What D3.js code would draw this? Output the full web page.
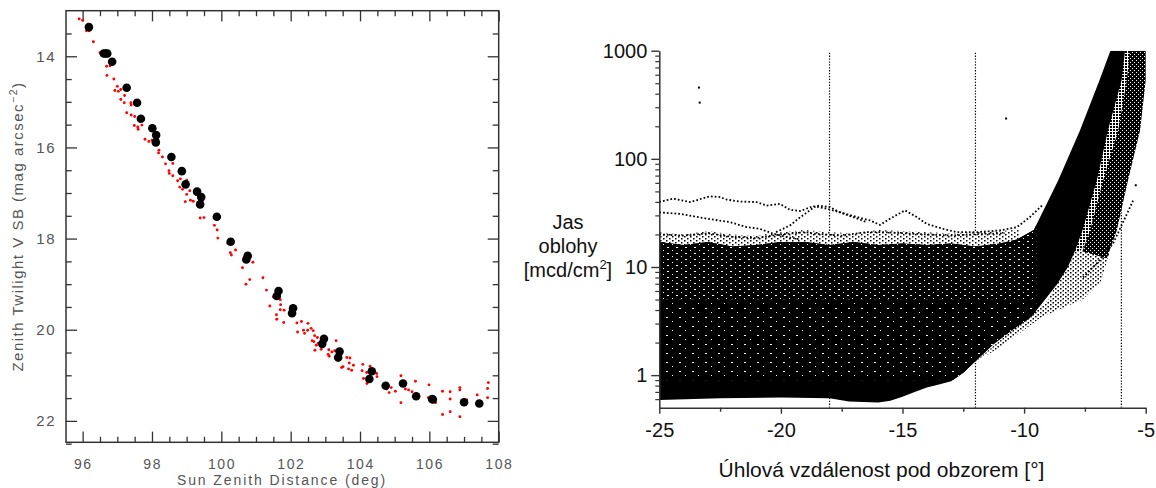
<!DOCTYPE html>
<html><head><meta charset="utf-8">
<script src="https://cdn.jsdelivr.net/npm/d3@7"></script>
<style>
html,body{margin:0;padding:0;background:#fff;}
svg{display:block;}
</style></head><body>
<svg id="c" width="1156" height="488"></svg>
<script>
// ================= LEFT PANEL DATA =================
const leftXMajor = [96, 98, 100, 102, 104, 106, 108];
const leftXMinor = [96.5, 97, 97.5, 98.5, 99, 99.5, 100.5, 101, 101.5, 102.5, 103, 103.5, 104.5, 105, 105.5, 106.5, 107, 107.5];
const leftYMajor = [14, 16, 18, 20, 22];
const leftYMinor = [13.5, 14.5, 15, 15.5, 16.5, 17, 17.5, 18.5, 19, 19.5, 20.5, 21, 21.5, 22.5];
// black points: [sun zenith distance (deg), V SB (mag/arcsec^2)]
const blackPoints = [
[96.18,13.36],[96.61,13.94],[96.66,13.94],[96.71,13.94],[96.85,14.12],[97.27,14.69],[97.57,15.02],[97.68,15.37],
[98.01,15.58],[98.12,15.73],[98.11,15.89],[98.56,16.21],[98.86,16.52],[98.97,16.81],[99.30,16.97],[99.42,17.09],
[99.39,17.25],[99.87,17.52],[100.27,18.07],[100.76,18.38],[100.72,18.46],[101.65,19.15],[101.60,19.26],[102.07,19.53],
[102.04,19.64],[102.96,20.20],[102.91,20.31],[103.41,20.48],[103.37,20.61],[104.34,20.91],[104.27,21.08],[104.74,21.23],
[105.24,21.18],[105.62,21.46],[106.08,21.52],[106.10,21.53],[107.00,21.59],[107.44,21.62]];
// red points
const redPoints = [
[95.90,13.18],[96.00,13.21],[96.11,13.44],[96.19,13.44],[96.31,13.68],[96.50,13.92],[96.69,14.22],[96.79,14.21],
[96.70,14.42],[96.90,14.50],[97.00,14.66],[96.93,14.75],[97.03,14.77],[97.10,14.73],[97.21,14.86],[97.10,14.95],
[97.20,15.02],[97.39,15.02],[97.40,15.07],[97.27,15.24],[97.40,15.29],[97.50,15.32],[97.49,15.52],[97.59,15.55],
[97.71,15.51],[97.60,15.60],[97.80,15.82],[97.91,15.87],[98.00,15.84],[98.10,15.93],[98.20,16.06],[98.19,16.12],
[98.30,16.21],[98.39,16.36],[98.60,16.35],[98.49,16.51],[98.50,16.57],[98.60,16.62],[98.74,16.73],[98.82,16.69],
[98.80,16.87],[98.88,16.92],[99.00,16.72],[99.09,16.95],[99.00,17.03],[98.96,17.19],[99.11,17.16],[99.19,17.18],
[99.39,17.55],[99.50,17.54],[99.80,17.71],[99.88,17.81],[99.90,17.99],[100.19,18.10],[100.26,18.31],[100.41,18.25],
[100.29,18.36],[100.61,18.64],[100.91,18.52],[100.71,19.00],[100.82,18.90],[101.20,18.86],[101.30,19.13],[101.50,19.28],
[101.40,19.48],[101.59,19.67],[101.60,19.77],[101.70,19.34],[101.71,19.45],[101.70,19.56],[101.81,19.57],[101.80,19.84],
[102.03,19.64],[102.18,19.85],[102.31,19.82],[102.20,20.05],[102.37,20.01],[102.40,20.08],[102.50,19.86],[102.59,19.97],
[102.49,20.01],[102.65,20.02],[102.69,20.13],[102.67,20.26],[102.77,20.17],[102.62,20.24],[102.79,20.30],[102.88,20.43],
[102.70,20.45],[102.74,20.34],[103.10,20.44],[103.08,20.54],[103.11,20.58],[103.19,20.49],[103.31,20.24],[103.27,20.46],
[103.38,20.67],[103.51,20.81],[103.47,20.83],[103.62,20.61],[103.71,20.62],[103.69,20.73],[103.67,20.86],[103.76,20.89],
[103.81,20.78],[104.08,20.76],[104.06,20.90],[104.10,21.07],[104.19,20.94],[104.20,21.18],[104.29,20.80],[104.38,20.91],
[104.48,20.96],[104.49,21.03],[104.77,21.30],[104.84,21.38],[104.90,21.27],[105.02,21.35],[105.18,21.01],[105.18,21.60],
[105.27,21.14],[105.31,21.30],[105.40,21.32],[105.50,21.36],[105.60,21.13],[105.99,21.21],[105.97,21.49],[106.18,21.60],
[106.38,21.35],[106.38,21.86],[106.60,21.36],[106.60,21.80],[106.60,21.52],[106.88,21.27],[106.88,21.32],[106.88,21.91],
[107.08,21.54],[107.38,21.43],[107.70,21.16],[107.68,21.29],[107.68,21.49]];

// ================= RIGHT PANEL DATA =================
const rightXMajor = [-25, -20, -15, -10, -5];
const rightXMinor = [-22.5, -17.5, -12.5, -7.5];
const rightYMajor = [1, 10, 100, 1000];
const rightYMinor = [0.6,0.7,0.8,0.9, 2,3,4,5,6,7,8,9, 20,30,40,50,60,70,80,90, 200,300,400,500,600,700,800,900];
const markerAngles = [-18, -12, -6];
// outline of the dense cloud of measurements [angle, brightness]
const massOutline = [
[-25,0.59],[-22.5,0.61],[-20,0.62],[-18,0.61],[-17.2,0.57],[-16,0.56],[-15.5,0.58],[-15,0.63],[-14.5,0.7],[-14,0.77],
[-13.5,0.82],[-13,0.88],[-12.5,1.05],[-12.06,1.31],[-11.25,1.94],[-10.5,2.6],[-9.72,3.43],[-9.2,4.8],[-8.63,7.0],
[-8.2,10],[-7.9,14.2],[-7.6,21.8],[-7.01,63],[-6.55,184],[-5.99,533],[-5.85,1000],[-6.45,1000],[-6.9,533],[-7.7,184],
[-8.6,63],[-9.6,22],[-10.3,18],[-11,16.5],[-12,15.5],[-13,16.5],[-14,16],[-15,16.5],[-16,16],[-17,17],[-18,16],[-19,17],
[-20,17],[-21,16],[-22,15.5],[-23,17],[-24,16],[-25,17]];
// ragged fringe of sparse points on top of the cloud
const topFringe = [
[-25,21],[-24,20],[-23,21.5],[-22,20],[-21,19.5],[-20,21],[-19,22],[-18,21],[-17,20.5],[-16,22],[-15,21.5],[-14,21],
[-13,20.5],[-12,21],[-11,21.5],[-10.2,22],[-10.2,15],[-25,15]];
// speckled gap between the two rising bands
const gapOutline = [[-6.2,1000],[-5.5,1000],[-5.7,533],[-6.0,184],[-6.6,63],[-7.2,21.8],[-7.7,14],[-8.2,14],[-7.5,40],[-6.6,300]];
// sparse halo along the lower-right edge
const haloOutline = [
[-7.2,21.8],[-6.45,14.2],[-6.88,7],[-7.6,5],[-9.3,3.43],[-11,1.8],[-12.06,1.31],[-9,5],[-8,14]];
// second (outer) band of the rising part
const outerBand = [
[-5.65,1000],[-5.78,533],[-6.13,184],[-6.75,63],[-7.29,21.8],[-7.6,14],[-6.6,12],[-6.19,21.8],[-5.73,63],[-5.23,184],
[-5,533],[-5,1000]];
// individual nights above the cloud
const nightA = [[-25,40],[-24.42,42.9],[-23.74,39.8],[-22.92,45],[-22.5,44.3],[-22.23,42],[-21.68,40.3],[-20.99,39.8],
[-20.58,37],[-20.04,38.4],[-19.63,33.8],[-19.21,32.9],[-18.67,36.5],[-18.12,34.6],[-17.57,32.1],[-16.88,29],[-16.34,27],
[-15.93,24.5],[-15.51,28],[-14.9,33.4],[-14.42,29],[-14.0,25],[-13.32,22.5],[-12.77,21],[-11.95,21],[-10.99,21.8],
[-10.3,23.3],[-9.76,29],[-9.21,38]];
const nightB = [[-25,32],[-24.15,31],[-23.05,28],[-22.1,26],[-21.41,23.4],[-20.86,22.5],[-20.31,20.3],[-19.76,18.9],[-19.2,18]];
const nightC = [[-25,20],[-24,19.5],[-23,20.5],[-22,19],[-21,18.5],[-20,20],[-19,21],[-18.7,20.4],[-17.5,19.5],[-16.5,21],
[-15.8,21],[-14.4,20.2],[-13,19.5],[-11.7,20.2],[-10.8,20.5]];
const nightD = [[-20.2,21],[-19.63,24.2],[-19.21,28.8],[-18.53,37],[-17.98,35.8],[-17.57,32],[-16.47,26]];
const tailE = [[-7.58,8.0],[-7.01,10.8],[-6.34,16.5],[-5.52,41]];
const outliers = [[-23.37,456],[-23.34,331],[-10.74,236],[-5.41,57]];
// speckle texture bands inside the cloud [low, high, pattern]
const speckleBands = [[0.9,5,'sp1'],[5,30,'sp2']];

// ================= DRAW =================
const svg = d3.select('#c');
svg.append('rect').attr('width',1156).attr('height',488).attr('fill','#fff');
const defs = svg.append('defs');

// ---------- left panel ----------
const LX0=66, LX1=498.7, LY0=10.7, LY1=442.3;
const xL = d3.scaleLinear().domain([95.52,108]).range([LX0,LX1]);
const yL = d3.scaleLinear().domain([13,22.47]).range([LY0,LY1]);
const gl = svg.append('g');
const lfont = "'Liberation Sans', Arial, sans-serif";
const lcol = '#555';
function onlyTicks(g, col, w){ g.select('.domain').remove(); g.selectAll('text').remove();
  g.selectAll('line').attr('stroke',col).attr('stroke-width',w); }
gl.append('g').attr('transform',`translate(0,${LY1})`).call(d3.axisBottom(xL).tickValues(leftXMajor).tickSize(-10.7)).call(onlyTicks,'#333',1.3);
gl.append('g').attr('transform',`translate(0,${LY1})`).call(d3.axisBottom(xL).tickValues(leftXMinor).tickSize(-5.5)).call(onlyTicks,'#333',1.3);
gl.append('g').attr('transform',`translate(0,${LY0})`).call(d3.axisTop(xL).tickValues(leftXMajor).tickSize(-10.7)).call(onlyTicks,'#333',1.3);
gl.append('g').attr('transform',`translate(0,${LY0})`).call(d3.axisTop(xL).tickValues(leftXMinor).tickSize(-5.5)).call(onlyTicks,'#333',1.3);
gl.append('g').attr('transform',`translate(${LX0},0)`).call(d3.axisLeft(yL).tickValues(leftYMajor).tickSize(-11)).call(onlyTicks,'#333',1.3);
gl.append('g').attr('transform',`translate(${LX0},0)`).call(d3.axisLeft(yL).tickValues(leftYMinor).tickSize(-5.7)).call(onlyTicks,'#333',1.3);
gl.append('g').attr('transform',`translate(${LX1},0)`).call(d3.axisRight(yL).tickValues(leftYMajor).tickSize(-11)).call(onlyTicks,'#333',1.3);
gl.append('g').attr('transform',`translate(${LX1},0)`).call(d3.axisRight(yL).tickValues(leftYMinor).tickSize(-6)).call(onlyTicks,'#333',1.3);
gl.append('rect').attr('x',LX0).attr('y',LY0).attr('width',LX1-LX0).attr('height',LY1-LY0)
  .attr('fill','none').attr('stroke','#333').attr('stroke-width',1.5);
// points
gl.append('g').selectAll('circle').data(redPoints).join('circle')
  .attr('cx',d=>xL(d[0])).attr('cy',d=>yL(d[1])).attr('r',1.45).attr('fill','#ff0000');
gl.append('g').selectAll('circle').data(blackPoints).join('circle')
  .attr('cx',d=>xL(d[0])).attr('cy',d=>yL(d[1])).attr('r',4.3).attr('fill','#000');
// labels
gl.append('g').selectAll('text').data(leftXMajor).join('text')
  .attr('x',d=>xL(d)+0.7).attr('y',469).attr('text-anchor','middle')
  .attr('font-family',lfont).attr('font-size',14).attr('letter-spacing',1.6).attr('fill',lcol).text(d=>d);
gl.append('g').selectAll('text').data(leftYMajor).join('text')
  .attr('x',LX0-10).attr('y',d=>yL(d)).attr('dy','0.36em').attr('text-anchor','end')
  .attr('font-family',lfont).attr('font-size',15).attr('letter-spacing',1.5).attr('fill',lcol).text(d=>d);
gl.append('text').attr('x',282).attr('y',484.6).attr('text-anchor','middle')
  .attr('font-family',lfont).attr('font-size',14).attr('letter-spacing',1.9).attr('fill',lcol)
  .text('Sun Zenith Distance (deg)');
const yl = gl.append('text').attr('transform','translate(23,226.5) rotate(-90)').attr('text-anchor','middle')
  .attr('font-family',lfont).attr('font-size',15).attr('letter-spacing',1.5).attr('fill',lcol);
yl.append('tspan').text('Zenith Twilight V SB (mag arcsec');
yl.append('tspan').attr('font-size',10.5).attr('dy',-6).text('\u22122');
yl.append('tspan').attr('dy',6).text(')');

// ---------- right panel ----------
const RX0=659.3, RX1=1145.7, RY0=50.7, RY1=407.7;
const xR = d3.scaleLinear().domain([-25,-5]).range([RX0,RX1]);
const yR = d3.scaleLog().domain([0.5,1000]).range([RY1,RY0]);
const rfont = "'Liberation Sans', Arial, sans-serif";
defs.append('clipPath').attr('id','plotClip').append('rect')
  .attr('x',RX0).attr('y',RY0).attr('width',RX1-RX0+1).attr('height',RY1-RY0);
function mkPat(id,w,h,bg,fg,cells){
  const p = defs.append('pattern').attr('id',id).attr('patternUnits','userSpaceOnUse').attr('width',w).attr('height',h);
  p.append('rect').attr('width',w).attr('height',h).attr('fill',bg);
  cells.forEach(c=>p.append('rect').attr('x',c[0]).attr('y',c[1]).attr('width',c[2]).attr('height',c[3]).attr('fill',fg));
}
mkPat('sp1',13,9,'#000','#fff',[[3,2,2,1],[9,6,1,1]]);
mkPat('sp2',9,6,'#000','#fff',[[1,1,2,1],[6,4,1,1]]);
mkPat('gap',3,3,'#fff','#000',[[0,0,2,2]]);
mkPat('halo',5,4,'#fff','#000',[[0,0,1.5,1.5],[2.5,2,1.5,1.5]]);
mkPat('fringe',6,4,'#fff','#000',[[0,0,1.5,1.5],[3,2,1.5,1.5]]);
mkPat('band',4,4,'#000','#fff',[[0,0,1,1],[2,2,1,1]]);

const line = d3.line().x(d=>xR(d[0])).y(d=>yR(d[1]));
const area = d3.line().x(d=>xR(d[0])).y(d=>yR(d[1])).curve(d3.curveLinearClosed);
const gr = svg.append('g');
const plot = gr.append('g').attr('clip-path','url(#plotClip)');
plot.selectAll('line.ref').data(markerAngles).join('line').attr('class','ref')
  .attr('x1',d=>xR(d)).attr('x2',d=>xR(d)).attr('y1',yR(1000)+2).attr('y2',yR(0.5))
  .attr('stroke','#000').attr('stroke-width',1.2).attr('stroke-dasharray','1.3 1.6');
plot.append('path').attr('d',area(haloOutline)).attr('fill','url(#halo)');
plot.append('path').attr('d',area(topFringe)).attr('fill','url(#fringe)');
plot.append('path').attr('d',area(gapOutline)).attr('fill','url(#gap)');
plot.append('path').attr('d',area(outerBand)).attr('fill','url(#band)');
plot.append('path').attr('d',area(massOutline)).attr('fill','#000');
defs.append('clipPath').attr('id','massClip').append('path').attr('d',area(massOutline));
plot.append('g').attr('clip-path','url(#massClip)').selectAll('rect').data(speckleBands).join('rect')
  .attr('x',xR(-25)).attr('width',xR(-9.5)-xR(-25))
  .attr('y',d=>yR(d[1])).attr('height',d=>yR(d[0])-yR(d[1])).attr('fill',d=>`url(#${d[2]})`);
plot.append('g').selectAll('path').data([nightA,nightB,nightC,nightD,tailE]).join('path')
  .attr('d',line).attr('fill','none').attr('stroke','#000').attr('stroke-width',1.8).attr('stroke-dasharray','1.7 2.1');
plot.append('g').selectAll('rect').data(outliers).join('rect')
  .attr('x',d=>xR(d[0])-1).attr('y',d=>yR(d[1])-1).attr('width',2).attr('height',2).attr('fill','#000');

// axes
const axX = gr.append('g').attr('transform',`translate(0,${RY1})`)
  .call(d3.axisBottom(xR).tickValues(rightXMajor).tickSize(6).tickSizeOuter(0).tickPadding(9).tickFormat(d=>String(d)));
gr.append('g').attr('transform',`translate(0,${RY1})`)
  .call(d3.axisBottom(xR).tickValues(rightXMinor).tickSize(4)).call(onlyTicks,'#333',1.4);
const axY = gr.append('g').attr('transform',`translate(${RX0},0)`)
  .call(d3.axisLeft(yR).tickValues(rightYMajor).tickSize(8).tickSizeOuter(0).tickPadding(4).tickFormat(d=>String(d)));
gr.append('g').attr('transform',`translate(${RX0},0)`)
  .call(d3.axisLeft(yR).tickValues(rightYMinor).tickSize(4)).call(onlyTicks,'#333',1.2);
[axX,axY].forEach(a=>{
  a.select('.domain').attr('stroke','#333').attr('stroke-width',1.5);
  a.selectAll('line').attr('stroke','#333').attr('stroke-width',1.4);
  a.selectAll('text').attr('font-family',rfont).attr('font-size',20).attr('fill','#111');
});
gr.append('text').attr('x',881.5).attr('y',476.5).attr('text-anchor','middle')
  .attr('font-family',rfont).attr('font-size',21).attr('fill','#111').text('Úhlová vzdálenost pod obzorem [°]');
const ylab = gr.append('g').attr('font-family',rfont).attr('font-size',20).attr('fill','#111').attr('text-anchor','middle');
ylab.append('text').attr('x',568).attr('y',229).text('Jas');
ylab.append('text').attr('x',568).attr('y',253).text('oblohy');
const t3 = ylab.append('text').attr('x',568).attr('y',277);
t3.append('tspan').text('[mcd/cm');
t3.append('tspan').attr('font-size',13).attr('dy',-8).text('2');
t3.append('tspan').attr('dy',8).text(']');
</script>
</body></html>
